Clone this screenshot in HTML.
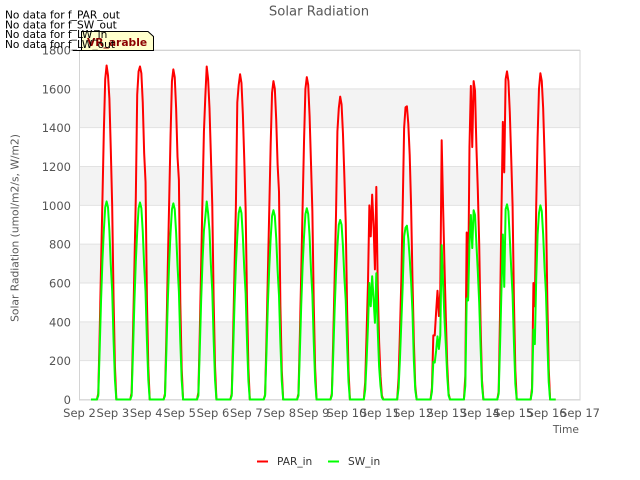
<!DOCTYPE html>
<html>
<head>
<meta charset="utf-8">
<title>Solar Radiation</title>
<style>
html,body{margin:0;padding:0;background:#fff;}
svg{display:block;font-family:"DejaVu Sans","Liberation Sans",sans-serif;}
</style>
</head>
<body>
<svg id="chart" width="640" height="480" viewBox="0 0 640 480" xmlns="http://www.w3.org/2000/svg">
  <rect x="0" y="0" width="640" height="480" fill="#ffffff"/>
  <g id="bands"></g>
  <g id="grid"></g>
  <rect x="79.5" y="50.5" width="500.5" height="349.5" fill="none" stroke="#d4d4d4" stroke-width="1"/>
  <g id="yticks"></g>
  <g id="xticks"></g>
  <g id="series"></g>
  <text x="319" y="15.5" font-size="13.2" fill="#595959" text-anchor="middle">Solar Radiation</text>
  <text transform="translate(18.5 228) rotate(-90)" font-size="10.7" fill="#595959" text-anchor="middle">Solar Radiation (umol/m2/s, W/m2)</text>
  <text x="579" y="433" font-size="10.7" fill="#595959" text-anchor="end">Time</text>
  <g>
    <path d="M73 50.5H153.5V36.5L148 31.5H81.5V50.5" fill="#ffffcc" stroke="#000" stroke-width="1"/>
    <text x="87" y="46" font-size="10.7" font-weight="bold" fill="#8b0000">VR_arable</text>
  </g>
  <g font-size="10.6" fill="#000">
    <text x="5" y="18.5">No data for f_PAR_out</text>
    <text x="5" y="28.5">No data for f_SW_out</text>
    <text x="5" y="38">No data for f_LW_in</text>
    <text x="5" y="48">No data for f_LW_out</text>
  </g>
  <g>
    <line x1="257" y1="461.5" x2="268" y2="461.5" stroke="#ff0000" stroke-width="2"/>
    <text x="277" y="465" font-size="10.6" fill="#333">PAR_in</text>
    <line x1="328" y1="461.5" x2="339" y2="461.5" stroke="#00ff00" stroke-width="2"/>
    <text x="348" y="465" font-size="10.6" fill="#333">SW_in</text>
  </g>
</svg>
<script>
const xTickLabels = ["Sep 2","Sep 3","Sep 4","Sep 5","Sep 6","Sep 7","Sep 8","Sep 9","Sep 10","Sep 11","Sep 12","Sep 13","Sep 14","Sep 15","Sep 16","Sep 17"];
const yTickValues = [0,200,400,600,800,1000,1200,1400,1600,1800];
const sampleHours = [12.5,13.5,14.5,15.5,16.5,17.5,18.5,19.5,20.5,21.5,22.5,23.5,24.5,25.5,26.5];
const seriesStartDay = 0.344;
const seriesEndDay = 14.27;
const parIn = [
  [0,30,340,690,1030,1380,1650,1720,1670,1550,1290,1000,520,170,0],
  [0,35,345,685,1040,1570,1690,1715,1680,1530,1270,1120,510,165,0],
  [0,30,330,680,1020,1360,1640,1700,1660,1500,1250,1130,500,160,0],
  [0,35,340,690,1050,1380,1560,1715,1650,1500,1260,1000,510,170,0],
  [0,30,330,670,1000,1530,1620,1675,1630,1470,1240,980,500,160,0],
  [0,25,320,650,980,1310,1580,1640,1600,1440,1210,1070,480,150,0],
  [0,30,330,660,1000,1330,1600,1660,1620,1460,1220,970,490,160,0],
  [0,30,310,620,950,1380,1500,1560,1520,1370,1150,910,460,150,0],
  [0,90,340,600,1000,840,1055,900,670,1095,590,300,120,20,0],
  [0,110,350,620,1000,1400,1505,1510,1420,1260,1000,620,300,70,0],
  [0,60,330,330,450,560,430,560,1335,1000,700,420,180,30,0],
  [0,120,860,525,1300,1615,1300,1640,1590,1300,1080,800,380,100,0],
  [0,40,450,960,1430,1170,1650,1690,1640,1480,1250,1000,500,150,0],
  [0,60,600,480,1000,1350,1600,1680,1640,1500,1260,1000,510,160,0]
];
const swIn = [
  [0,20,255,510,715,870,990,1020,990,870,695,560,305,100,0],
  [0,20,250,505,710,865,985,1015,985,865,690,555,300,100,0],
  [0,20,250,505,705,860,980,1010,980,860,690,555,300,100,0],
  [0,20,255,510,715,870,940,1020,960,870,695,560,305,100,0],
  [0,20,245,495,695,840,960,990,960,840,675,545,295,95,0],
  [0,20,245,490,680,830,945,975,945,830,665,535,290,95,0],
  [0,20,245,490,690,840,955,985,955,840,670,540,295,95,0],
  [0,20,230,460,650,790,900,925,900,790,630,510,280,90,0],
  [0,50,200,380,600,480,635,520,395,650,360,170,70,10,0],
  [0,60,210,400,590,840,885,895,830,730,610,450,200,50,0],
  [0,40,195,190,250,325,260,330,795,600,420,280,120,20,0],
  [0,70,520,510,800,950,780,975,950,800,660,500,270,70,0],
  [0,30,280,565,850,580,980,1005,970,830,680,540,290,80,0],
  [0,40,360,285,620,850,960,1000,970,850,680,550,300,90,0]
];

const SVG_NS = "http://www.w3.org/2000/svg";
const plotLeft = 79.5, plotRight = 580, plotTop = 50, plotBottom = 400;
const xMaxDays = xTickLabels.length - 1;
const yMax = yTickValues[yTickValues.length - 1];
function xScale(day){ return plotLeft + (plotRight - plotLeft) * day / xMaxDays; }
function yScale(v){ return plotBottom - 0.5 - (plotBottom - 0.5 - plotTop) * v / yMax; }
function make(tag, attrs, parent){
  const el = document.createElementNS(SVG_NS, tag);
  Object.keys(attrs).forEach(function(k){ el.setAttribute(k, attrs[k]); });
  parent.appendChild(el);
  return el;
}
const bandsG = document.getElementById("bands");
const gridG = document.getElementById("grid");
const yTicksG = document.getElementById("yticks");
const xTicksG = document.getElementById("xticks");
const seriesG = document.getElementById("series");

yTickValues.forEach(function(v, i){
  if (i % 2 === 1 && i < yTickValues.length - 1) {
    const band = make("rect", {x: plotLeft, y: yScale(yTickValues[i + 1]), width: plotRight - plotLeft, height: yScale(v) - yScale(yTickValues[i + 1]), fill: "#f3f3f3"}, bandsG);
    
    
  }
  const line = make("line", {x1: plotLeft, x2: plotRight, y1: yScale(v), y2: yScale(v), stroke: "#e2e2e2", "stroke-width": 1}, gridG);
  
  
  const label = make("text", {x: 71, y: yScale(v) + 4.5, "font-size": 11.5, fill: "#555555", "text-anchor": "end"}, yTicksG);
  label.textContent = String(v);
  
  
});

xTickLabels.forEach(function(name, i){
  const label = make("text", {x: xScale(i), y: 417, "font-size": 11.5, fill: "#555555", "text-anchor": "middle"}, xTicksG);
  label.textContent = name;
  
  
});

function seriesPath(days){
  const parts = ["M" + xScale(seriesStartDay).toFixed(2) + " " + yScale(0).toFixed(2)];
  days.forEach(function(values, d){
    values.forEach(function(v, i){
      const t = d + sampleHours[i] / 24;
      parts.push("L" + xScale(t).toFixed(2) + " " + yScale(v).toFixed(2));
    });
  });
  parts.push("L" + xScale(seriesEndDay).toFixed(2) + " " + yScale(0).toFixed(2));
  return parts.join("");
}
const parLine = make("path", {d: seriesPath(parIn), fill: "none", stroke: "#ff0000", "stroke-width": 2, "stroke-linejoin": "round"}, seriesG);


const swLine = make("path", {d: seriesPath(swIn), fill: "none", stroke: "#00ff00", "stroke-width": 2, "stroke-linejoin": "round"}, seriesG);


</script>
</body>
</html>
